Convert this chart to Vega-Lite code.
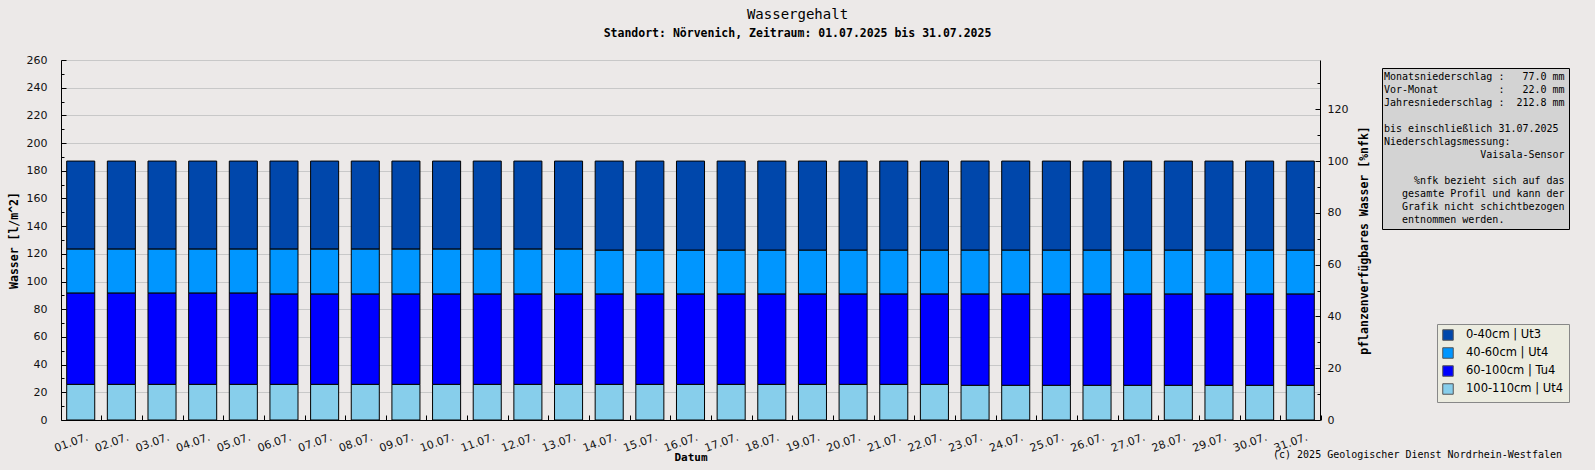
{
  "$schema": "https://vega.github.io/schema/vega-lite/v6.json",
  "width": 1259,
  "height": 360,
  "autosize": {"type": "none"},
  "padding": {"left": 61, "top": 60, "right": 275, "bottom": 50},
  "background": "#ECE9E8",
  "title": {
    "text": "Wassergehalt",
    "subtitle": "Standort: Nörvenich, Zeitraum: 01.07.2025 bis 31.07.2025",
    "anchor": "middle",
    "dx": 107,
    "offset": 15,
    "font": "DejaVu Sans Mono",
    "fontSize": 14,
    "fontWeight": "normal",
    "color": "#000",
    "subtitleFont": "DejaVu Sans Mono",
    "subtitleFontSize": 11.5,
    "subtitleFontWeight": "bold",
    "subtitleColor": "#000",
    "subtitlePadding": 6
  },
  "datasets": {
    "wasser": [
      {"tag": "01.07.", "schicht": "0-40cm | Ut3", "rang": 4, "wert": 63.6},
      {"tag": "01.07.", "schicht": "40-60cm | Ut4", "rang": 3, "wert": 31.8},
      {"tag": "01.07.", "schicht": "60-100cm | Tu4", "rang": 2, "wert": 65.9},
      {"tag": "01.07.", "schicht": "100-110cm | Ut4", "rang": 1, "wert": 25.7},
      {"tag": "02.07.", "schicht": "0-40cm | Ut3", "rang": 4, "wert": 63.6},
      {"tag": "02.07.", "schicht": "40-60cm | Ut4", "rang": 3, "wert": 31.8},
      {"tag": "02.07.", "schicht": "60-100cm | Tu4", "rang": 2, "wert": 65.9},
      {"tag": "02.07.", "schicht": "100-110cm | Ut4", "rang": 1, "wert": 25.7},
      {"tag": "03.07.", "schicht": "0-40cm | Ut3", "rang": 4, "wert": 63.6},
      {"tag": "03.07.", "schicht": "40-60cm | Ut4", "rang": 3, "wert": 31.8},
      {"tag": "03.07.", "schicht": "60-100cm | Tu4", "rang": 2, "wert": 65.9},
      {"tag": "03.07.", "schicht": "100-110cm | Ut4", "rang": 1, "wert": 25.7},
      {"tag": "04.07.", "schicht": "0-40cm | Ut3", "rang": 4, "wert": 63.6},
      {"tag": "04.07.", "schicht": "40-60cm | Ut4", "rang": 3, "wert": 31.8},
      {"tag": "04.07.", "schicht": "60-100cm | Tu4", "rang": 2, "wert": 65.9},
      {"tag": "04.07.", "schicht": "100-110cm | Ut4", "rang": 1, "wert": 25.7},
      {"tag": "05.07.", "schicht": "0-40cm | Ut3", "rang": 4, "wert": 63.6},
      {"tag": "05.07.", "schicht": "40-60cm | Ut4", "rang": 3, "wert": 31.8},
      {"tag": "05.07.", "schicht": "60-100cm | Tu4", "rang": 2, "wert": 65.9},
      {"tag": "05.07.", "schicht": "100-110cm | Ut4", "rang": 1, "wert": 25.7},
      {"tag": "06.07.", "schicht": "0-40cm | Ut3", "rang": 4, "wert": 63.6},
      {"tag": "06.07.", "schicht": "40-60cm | Ut4", "rang": 3, "wert": 32.5},
      {"tag": "06.07.", "schicht": "60-100cm | Tu4", "rang": 2, "wert": 65.2},
      {"tag": "06.07.", "schicht": "100-110cm | Ut4", "rang": 1, "wert": 25.7},
      {"tag": "07.07.", "schicht": "0-40cm | Ut3", "rang": 4, "wert": 63.6},
      {"tag": "07.07.", "schicht": "40-60cm | Ut4", "rang": 3, "wert": 32.5},
      {"tag": "07.07.", "schicht": "60-100cm | Tu4", "rang": 2, "wert": 65.2},
      {"tag": "07.07.", "schicht": "100-110cm | Ut4", "rang": 1, "wert": 25.7},
      {"tag": "08.07.", "schicht": "0-40cm | Ut3", "rang": 4, "wert": 63.6},
      {"tag": "08.07.", "schicht": "40-60cm | Ut4", "rang": 3, "wert": 32.5},
      {"tag": "08.07.", "schicht": "60-100cm | Tu4", "rang": 2, "wert": 65.2},
      {"tag": "08.07.", "schicht": "100-110cm | Ut4", "rang": 1, "wert": 25.7},
      {"tag": "09.07.", "schicht": "0-40cm | Ut3", "rang": 4, "wert": 63.6},
      {"tag": "09.07.", "schicht": "40-60cm | Ut4", "rang": 3, "wert": 32.5},
      {"tag": "09.07.", "schicht": "60-100cm | Tu4", "rang": 2, "wert": 65.2},
      {"tag": "09.07.", "schicht": "100-110cm | Ut4", "rang": 1, "wert": 25.7},
      {"tag": "10.07.", "schicht": "0-40cm | Ut3", "rang": 4, "wert": 63.6},
      {"tag": "10.07.", "schicht": "40-60cm | Ut4", "rang": 3, "wert": 32.5},
      {"tag": "10.07.", "schicht": "60-100cm | Tu4", "rang": 2, "wert": 65.2},
      {"tag": "10.07.", "schicht": "100-110cm | Ut4", "rang": 1, "wert": 25.7},
      {"tag": "11.07.", "schicht": "0-40cm | Ut3", "rang": 4, "wert": 63.6},
      {"tag": "11.07.", "schicht": "40-60cm | Ut4", "rang": 3, "wert": 32.5},
      {"tag": "11.07.", "schicht": "60-100cm | Tu4", "rang": 2, "wert": 65.2},
      {"tag": "11.07.", "schicht": "100-110cm | Ut4", "rang": 1, "wert": 25.7},
      {"tag": "12.07.", "schicht": "0-40cm | Ut3", "rang": 4, "wert": 63.6},
      {"tag": "12.07.", "schicht": "40-60cm | Ut4", "rang": 3, "wert": 32.5},
      {"tag": "12.07.", "schicht": "60-100cm | Tu4", "rang": 2, "wert": 65.2},
      {"tag": "12.07.", "schicht": "100-110cm | Ut4", "rang": 1, "wert": 25.7},
      {"tag": "13.07.", "schicht": "0-40cm | Ut3", "rang": 4, "wert": 63.6},
      {"tag": "13.07.", "schicht": "40-60cm | Ut4", "rang": 3, "wert": 32.5},
      {"tag": "13.07.", "schicht": "60-100cm | Tu4", "rang": 2, "wert": 65.2},
      {"tag": "13.07.", "schicht": "100-110cm | Ut4", "rang": 1, "wert": 25.7},
      {"tag": "14.07.", "schicht": "0-40cm | Ut3", "rang": 4, "wert": 64.4},
      {"tag": "14.07.", "schicht": "40-60cm | Ut4", "rang": 3, "wert": 31.7},
      {"tag": "14.07.", "schicht": "60-100cm | Tu4", "rang": 2, "wert": 65.2},
      {"tag": "14.07.", "schicht": "100-110cm | Ut4", "rang": 1, "wert": 25.7},
      {"tag": "15.07.", "schicht": "0-40cm | Ut3", "rang": 4, "wert": 64.4},
      {"tag": "15.07.", "schicht": "40-60cm | Ut4", "rang": 3, "wert": 31.7},
      {"tag": "15.07.", "schicht": "60-100cm | Tu4", "rang": 2, "wert": 65.2},
      {"tag": "15.07.", "schicht": "100-110cm | Ut4", "rang": 1, "wert": 25.7},
      {"tag": "16.07.", "schicht": "0-40cm | Ut3", "rang": 4, "wert": 64.4},
      {"tag": "16.07.", "schicht": "40-60cm | Ut4", "rang": 3, "wert": 31.7},
      {"tag": "16.07.", "schicht": "60-100cm | Tu4", "rang": 2, "wert": 65.2},
      {"tag": "16.07.", "schicht": "100-110cm | Ut4", "rang": 1, "wert": 25.7},
      {"tag": "17.07.", "schicht": "0-40cm | Ut3", "rang": 4, "wert": 64.4},
      {"tag": "17.07.", "schicht": "40-60cm | Ut4", "rang": 3, "wert": 31.7},
      {"tag": "17.07.", "schicht": "60-100cm | Tu4", "rang": 2, "wert": 65.2},
      {"tag": "17.07.", "schicht": "100-110cm | Ut4", "rang": 1, "wert": 25.7},
      {"tag": "18.07.", "schicht": "0-40cm | Ut3", "rang": 4, "wert": 64.4},
      {"tag": "18.07.", "schicht": "40-60cm | Ut4", "rang": 3, "wert": 31.7},
      {"tag": "18.07.", "schicht": "60-100cm | Tu4", "rang": 2, "wert": 65.2},
      {"tag": "18.07.", "schicht": "100-110cm | Ut4", "rang": 1, "wert": 25.7},
      {"tag": "19.07.", "schicht": "0-40cm | Ut3", "rang": 4, "wert": 64.4},
      {"tag": "19.07.", "schicht": "40-60cm | Ut4", "rang": 3, "wert": 31.7},
      {"tag": "19.07.", "schicht": "60-100cm | Tu4", "rang": 2, "wert": 65.2},
      {"tag": "19.07.", "schicht": "100-110cm | Ut4", "rang": 1, "wert": 25.7},
      {"tag": "20.07.", "schicht": "0-40cm | Ut3", "rang": 4, "wert": 64.4},
      {"tag": "20.07.", "schicht": "40-60cm | Ut4", "rang": 3, "wert": 31.7},
      {"tag": "20.07.", "schicht": "60-100cm | Tu4", "rang": 2, "wert": 65.2},
      {"tag": "20.07.", "schicht": "100-110cm | Ut4", "rang": 1, "wert": 25.7},
      {"tag": "21.07.", "schicht": "0-40cm | Ut3", "rang": 4, "wert": 64.4},
      {"tag": "21.07.", "schicht": "40-60cm | Ut4", "rang": 3, "wert": 31.7},
      {"tag": "21.07.", "schicht": "60-100cm | Tu4", "rang": 2, "wert": 65.2},
      {"tag": "21.07.", "schicht": "100-110cm | Ut4", "rang": 1, "wert": 25.7},
      {"tag": "22.07.", "schicht": "0-40cm | Ut3", "rang": 4, "wert": 64.4},
      {"tag": "22.07.", "schicht": "40-60cm | Ut4", "rang": 3, "wert": 31.7},
      {"tag": "22.07.", "schicht": "60-100cm | Tu4", "rang": 2, "wert": 65.2},
      {"tag": "22.07.", "schicht": "100-110cm | Ut4", "rang": 1, "wert": 25.7},
      {"tag": "23.07.", "schicht": "0-40cm | Ut3", "rang": 4, "wert": 64.4},
      {"tag": "23.07.", "schicht": "40-60cm | Ut4", "rang": 3, "wert": 31.7},
      {"tag": "23.07.", "schicht": "60-100cm | Tu4", "rang": 2, "wert": 65.9},
      {"tag": "23.07.", "schicht": "100-110cm | Ut4", "rang": 1, "wert": 25.0},
      {"tag": "24.07.", "schicht": "0-40cm | Ut3", "rang": 4, "wert": 64.4},
      {"tag": "24.07.", "schicht": "40-60cm | Ut4", "rang": 3, "wert": 31.7},
      {"tag": "24.07.", "schicht": "60-100cm | Tu4", "rang": 2, "wert": 65.9},
      {"tag": "24.07.", "schicht": "100-110cm | Ut4", "rang": 1, "wert": 25.0},
      {"tag": "25.07.", "schicht": "0-40cm | Ut3", "rang": 4, "wert": 64.4},
      {"tag": "25.07.", "schicht": "40-60cm | Ut4", "rang": 3, "wert": 31.7},
      {"tag": "25.07.", "schicht": "60-100cm | Tu4", "rang": 2, "wert": 65.9},
      {"tag": "25.07.", "schicht": "100-110cm | Ut4", "rang": 1, "wert": 25.0},
      {"tag": "26.07.", "schicht": "0-40cm | Ut3", "rang": 4, "wert": 64.4},
      {"tag": "26.07.", "schicht": "40-60cm | Ut4", "rang": 3, "wert": 31.7},
      {"tag": "26.07.", "schicht": "60-100cm | Tu4", "rang": 2, "wert": 65.9},
      {"tag": "26.07.", "schicht": "100-110cm | Ut4", "rang": 1, "wert": 25.0},
      {"tag": "27.07.", "schicht": "0-40cm | Ut3", "rang": 4, "wert": 64.4},
      {"tag": "27.07.", "schicht": "40-60cm | Ut4", "rang": 3, "wert": 31.7},
      {"tag": "27.07.", "schicht": "60-100cm | Tu4", "rang": 2, "wert": 65.9},
      {"tag": "27.07.", "schicht": "100-110cm | Ut4", "rang": 1, "wert": 25.0},
      {"tag": "28.07.", "schicht": "0-40cm | Ut3", "rang": 4, "wert": 64.4},
      {"tag": "28.07.", "schicht": "40-60cm | Ut4", "rang": 3, "wert": 31.7},
      {"tag": "28.07.", "schicht": "60-100cm | Tu4", "rang": 2, "wert": 65.9},
      {"tag": "28.07.", "schicht": "100-110cm | Ut4", "rang": 1, "wert": 25.0},
      {"tag": "29.07.", "schicht": "0-40cm | Ut3", "rang": 4, "wert": 64.4},
      {"tag": "29.07.", "schicht": "40-60cm | Ut4", "rang": 3, "wert": 31.7},
      {"tag": "29.07.", "schicht": "60-100cm | Tu4", "rang": 2, "wert": 65.9},
      {"tag": "29.07.", "schicht": "100-110cm | Ut4", "rang": 1, "wert": 25.0},
      {"tag": "30.07.", "schicht": "0-40cm | Ut3", "rang": 4, "wert": 64.4},
      {"tag": "30.07.", "schicht": "40-60cm | Ut4", "rang": 3, "wert": 31.7},
      {"tag": "30.07.", "schicht": "60-100cm | Tu4", "rang": 2, "wert": 65.9},
      {"tag": "30.07.", "schicht": "100-110cm | Ut4", "rang": 1, "wert": 25.0},
      {"tag": "31.07.", "schicht": "0-40cm | Ut3", "rang": 4, "wert": 64.4},
      {"tag": "31.07.", "schicht": "40-60cm | Ut4", "rang": 3, "wert": 31.7},
      {"tag": "31.07.", "schicht": "60-100cm | Tu4", "rang": 2, "wert": 65.9},
      {"tag": "31.07.", "schicht": "100-110cm | Ut4", "rang": 1, "wert": 25.0}
    ],
    "nfk": [
      {"tag": "01.07.", "nfk": 100}, {"tag": "02.07.", "nfk": 100}, {"tag": "03.07.", "nfk": 100},
      {"tag": "04.07.", "nfk": 100}, {"tag": "05.07.", "nfk": 100}, {"tag": "06.07.", "nfk": 100},
      {"tag": "07.07.", "nfk": 100}, {"tag": "08.07.", "nfk": 100}, {"tag": "09.07.", "nfk": 100},
      {"tag": "10.07.", "nfk": 100}, {"tag": "11.07.", "nfk": 100}, {"tag": "12.07.", "nfk": 100},
      {"tag": "13.07.", "nfk": 100}, {"tag": "14.07.", "nfk": 100}, {"tag": "15.07.", "nfk": 100},
      {"tag": "16.07.", "nfk": 100}, {"tag": "17.07.", "nfk": 100}, {"tag": "18.07.", "nfk": 100},
      {"tag": "19.07.", "nfk": 100}, {"tag": "20.07.", "nfk": 100}, {"tag": "21.07.", "nfk": 100},
      {"tag": "22.07.", "nfk": 100}, {"tag": "23.07.", "nfk": 100}, {"tag": "24.07.", "nfk": 100},
      {"tag": "25.07.", "nfk": 100}, {"tag": "26.07.", "nfk": 100}, {"tag": "27.07.", "nfk": 100},
      {"tag": "28.07.", "nfk": 100}, {"tag": "29.07.", "nfk": 100}, {"tag": "30.07.", "nfk": 100},
      {"tag": "31.07.", "nfk": 100}
    ],
    "info": [
      {"zeile": "Monatsniederschlag :\u00a0\u00a0\u00a077.0 mm"},
      {"zeile": "Vor-Monat\u00a0\u00a0\u00a0\u00a0\u00a0\u00a0\u00a0\u00a0\u00a0 :\u00a0\u00a0\u00a022.0 mm"},
      {"zeile": "Jahresniederschlag :\u00a0\u00a0212.8 mm"},
      {"zeile": "\u200b\u00a0"},
      {"zeile": "bis einschließlich 31.07.2025"},
      {"zeile": "Niederschlagsmessung:"},
      {"zeile": "\u200b\u00a0\u00a0\u00a0\u00a0\u00a0\u00a0\u00a0\u00a0\u00a0\u00a0\u00a0\u00a0\u00a0\u00a0\u00a0\u00a0Vaisala-Sensor"},
      {"zeile": "\u200b\u00a0\u00a0"},
      {"zeile": "\u200b\u00a0\u00a0\u00a0\u00a0\u00a0%nfk bezieht sich auf das"},
      {"zeile": "\u200b\u00a0\u00a0\u00a0gesamte Profil und kann der"},
      {"zeile": "\u200b\u00a0\u00a0\u00a0Grafik nicht schichtbezogen"},
      {"zeile": "\u200b\u00a0\u00a0\u00a0entnommen werden."}
    ],
    "copy": [
      {"text": "(c) 2025 Geologischer Dienst Nordrhein-Westfalen"}
    ]
  },
  "layer": [
    {
      "data": {"name": "wasser"},
      "mark": {"type": "bar", "stroke": "#000", "strokeWidth": 1},
      "encoding": {
        "x": {
          "field": "tag",
          "type": "nominal",
          "sort": null,
          "title": "Datum",
          "scale": {"paddingInner": 0.31, "paddingOuter": 0.14},
          "axis": {
            "bandPosition": 1.25,
            "labelAngle": -20,
            "labelOffset": 5,
            "tickSize": -5,
            "labelPadding": 16,
            "domainColor": "#000",
            "tickColor": "#000",
            "labelFont": "DejaVu Sans",
            "labelFontSize": 11,
            "labelColor": "#111",
            "titleFont": "DejaVu Sans Mono",
            "titleFontSize": 11,
            "titleFontWeight": "bold",
            "titleColor": "#000",
            "titlePadding": -2,
            "grid": false
          }
        },
        "y": {
          "field": "wert",
          "type": "quantitative",
          "stack": "zero",
          "title": "Wasser [l/m^2]",
          "scale": {"domain": [0, 260], "nice": false},
          "axis": {
            "values": [0, 10, 20, 30, 40, 50, 60, 70, 80, 90, 100, 110, 120, 130, 140, 150, 160, 170, 180, 190, 200, 210, 220, 230, 240, 250, 260],
            "labelExpr": "datum.value % 20 === 0 ? datum.label : ''",
            "tickSize": {"condition": {"test": "datum.value % 20 === 0", "value": -5}, "value": -3},
            "gridOpacity": {"condition": {"test": "datum.value % 20 === 0", "value": 1}, "value": 0},
            "gridColor": "#C8C8C8",
            "domainColor": "#000",
            "tickColor": "#000",
            "labelFont": "DejaVu Sans",
            "labelFontSize": 11,
            "labelColor": "#111",
            "labelPadding": 19,
            "titleFont": "DejaVu Sans Mono",
            "titleFontSize": 11.5,
            "titleFontWeight": "bold",
            "titleColor": "#000",
            "titlePadding": 7
          }
        },
        "color": {
          "field": "schicht",
          "type": "nominal",
          "scale": {
            "domain": ["0-40cm | Ut3", "40-60cm | Ut4", "60-100cm | Tu4", "100-110cm | Ut4"],
            "range": ["#0047AB", "#0096FF", "#0000FF", "#87CEEB"]
          },
          "legend": {
            "orient": "none",
            "legendX": 1376,
            "legendY": 264,
            "title": null,
            "fillColor": "#ECECE0",
            "strokeColor": "#888",
            "padding": 5,
            "symbolType": "square",
            "symbolSize": 110,
            "symbolStrokeColor": "#555",
            "symbolStrokeWidth": 1,
            "symbolOpacity": 1,
            "labelFont": "DejaVu Sans",
            "labelFontSize": 11.5,
            "labelColor": "#000",
            "labelOffset": 12,
            "rowPadding": 2
          }
        },
        "order": {"field": "rang", "type": "quantitative"}
      }
    },
    {
      "data": {"name": "nfk"},
      "mark": {"type": "tick", "opacity": 0},
      "encoding": {
        "y": {
          "field": "nfk",
          "type": "quantitative",
          "title": "pflanzenverfügbares Wasser [%nfk]",
          "scale": {"domain": [0, 139], "nice": false},
          "axis": {
            "orient": "right",
            "values": [0, 10, 20, 30, 40, 50, 60, 70, 80, 90, 100, 110, 120, 130],
            "labelExpr": "datum.value % 20 === 0 ? datum.label : ''",
            "tickSize": {"condition": {"test": "datum.value % 20 === 0", "value": -5}, "value": -3},
            "grid": false,
            "domainColor": "#000",
            "tickColor": "#000",
            "labelFont": "DejaVu Sans",
            "labelFontSize": 11,
            "labelColor": "#111",
            "labelPadding": 12,
            "titleAngle": -90,
            "titleFont": "DejaVu Sans Mono",
            "titleFontSize": 11.5,
            "titleFontWeight": "bold",
            "titleColor": "#000",
            "titlePadding": 22
          }
        }
      }
    },
    {
      "data": {"name": "info"},
      "mark": {"type": "point", "opacity": 0},
      "encoding": {
        "shape": {
          "field": "zeile",
          "type": "nominal",
          "scale": {
            "domain": [
              "Monatsniederschlag :\u00a0\u00a0\u00a077.0 mm",
              "Vor-Monat\u00a0\u00a0\u00a0\u00a0\u00a0\u00a0\u00a0\u00a0\u00a0 :\u00a0\u00a0\u00a022.0 mm",
              "Jahresniederschlag :\u00a0\u00a0212.8 mm",
              "\u200b\u00a0",
              "bis einschließlich 31.07.2025",
              "Niederschlagsmessung:",
              "\u200b\u00a0\u00a0\u00a0\u00a0\u00a0\u00a0\u00a0\u00a0\u00a0\u00a0\u00a0\u00a0\u00a0\u00a0\u00a0\u00a0Vaisala-Sensor",
              "\u200b\u00a0\u00a0",
              "\u200b\u00a0\u00a0\u00a0\u00a0\u00a0%nfk bezieht sich auf das",
              "\u200b\u00a0\u00a0\u00a0gesamte Profil und kann der",
              "\u200b\u00a0\u00a0\u00a0Grafik nicht schichtbezogen",
              "\u200b\u00a0\u00a0\u00a0entnommen werden."
            ]
          },
          "legend": {
            "orient": "none",
            "legendX": 1321,
            "legendY": 8,
            "title": null,
            "fillColor": "#D3D3D3",
            "strokeColor": "#000",
            "padding": 4,
            "symbolSize": 0,
            "symbolOpacity": 0,
            "symbolStrokeWidth": 0,
            "labelOffset": -12,
            "labelFont": "DejaVu Sans Mono",
            "labelFontSize": 10,
            "labelColor": "#000",
            "labelLimit": 400,
            "rowPadding": 3
          }
        }
      }
    },
    {
      "data": {"name": "copy"},
      "mark": {"type": "point", "opacity": 0},
      "encoding": {
        "strokeDash": {
          "field": "text",
          "type": "nominal",
          "legend": {
            "orient": "none",
            "legendX": 1202,
            "legendY": 390,
            "title": null,
            "padding": 0,
            "symbolSize": 0,
            "symbolOpacity": 0,
            "symbolStrokeWidth": 0,
            "labelOffset": 0,
            "labelFont": "DejaVu Sans Mono",
            "labelFontSize": 10,
            "labelColor": "#000",
            "labelLimit": 400
          }
        }
      }
    }
  ],
  "resolve": {"scale": {"y": "independent"}},
  "config": {
    "view": {"fill": "#FFFFFF", "stroke": null}
  }
}
